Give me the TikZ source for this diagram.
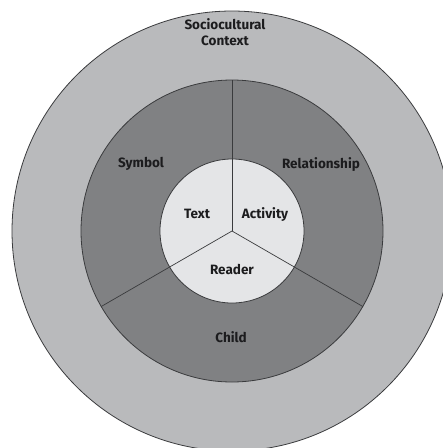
\documentclass[tikz,border=0pt]{standalone}
\usepackage{fontspec}
\setmainfont{Fira Sans}
\definecolor{ringouter}{HTML}{B9BABC}
\definecolor{ringmid}{HTML}{808183}
\definecolor{ringinner}{HTML}{E4E5E7}
\definecolor{edge}{HTML}{3A3B3D}
\definecolor{ink}{HTML}{1C1C1E}
\begin{document}
\begin{tikzpicture}[x=1pt,y=-1pt,
  lbl/.style={font=\fontsize{13.5}{16}\selectfont\bfseries, text=ink, inner sep=0pt, anchor=base, align=center},
  rim/.style={draw=edge, line width=0.8pt}]
\useasboundingbox (0,0) rectangle (443,448);
\clip (0,0) rectangle (443,448);
\fill[white] (0,0) rectangle (443,448);
\coordinate (c) at (232,231);
% nested rings
\filldraw[rim, fill=ringouter] (c) circle[radius=220];
\filldraw[rim, fill=ringmid] (c) circle[radius=151];
\filldraw[rim, fill=ringinner] (c) circle[radius=72];
% three dividing spokes (y axis points down here)
\draw[edge, line width=0.7pt] (c) -- ++(0,-151);
\draw[edge, line width=0.7pt] (c) -- ++(30:151);
\draw[edge, line width=0.7pt] (c) -- ++(150:151);
% labels
\node[lbl] (ctx) at (225,45) {Sociocultural\\Context};
\node[lbl] (sym) at (141,167) {Symbol};
\node[lbl] (rel) at (321,168) {Relationship};
\node[lbl] (chd) at (231,342) {Child};
\node[lbl] (txt) at (197,218) {Text};
\node[lbl] (act) at (265,218) {Activity};
\node[lbl] (rdr) at (232,274) {Reader};
\end{tikzpicture}
\end{document}
